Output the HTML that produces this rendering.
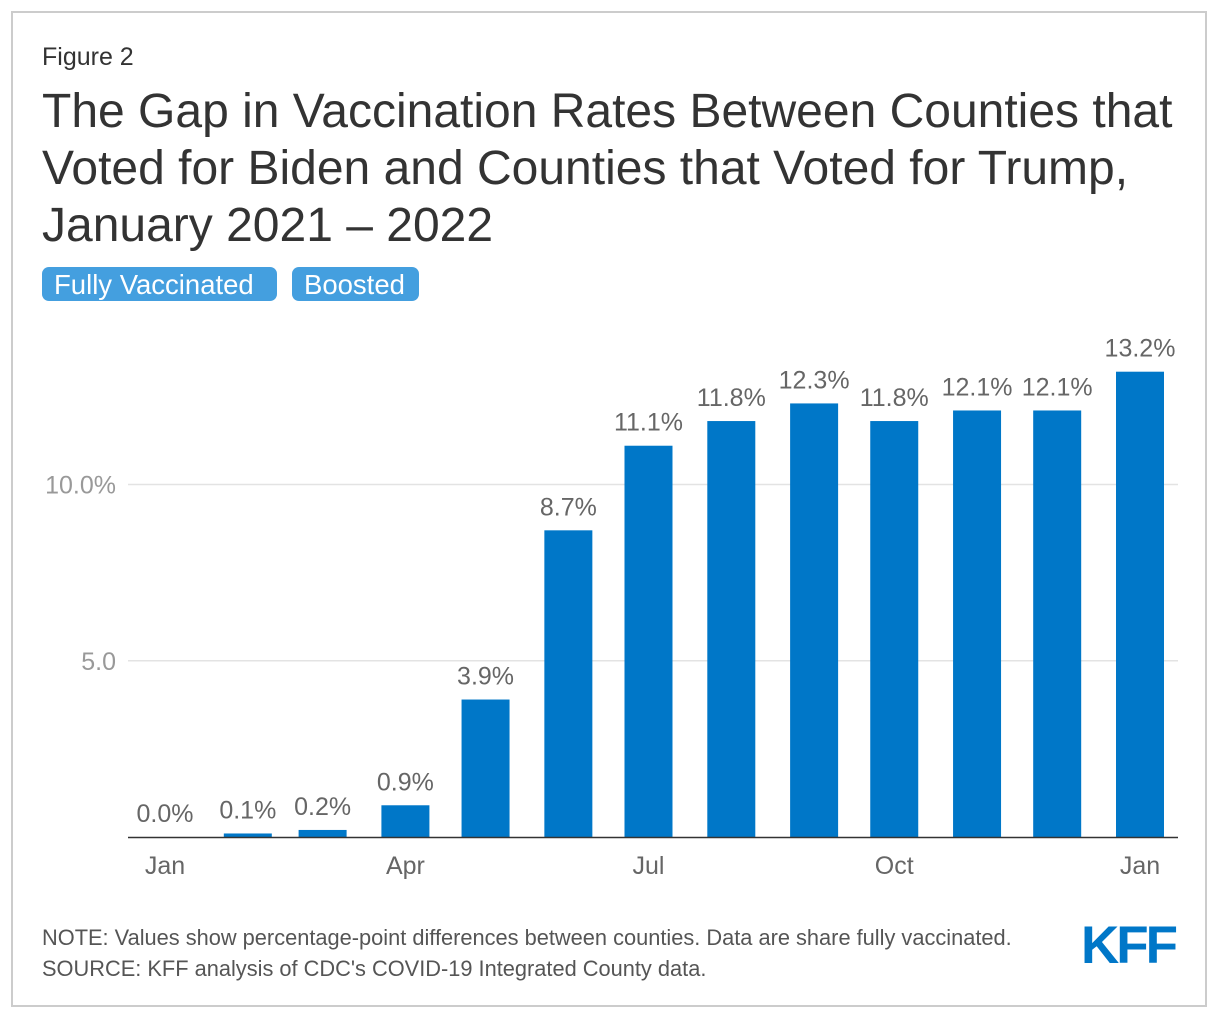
<!DOCTYPE html>
<html><head><meta charset="utf-8"><style>
body{margin:0;background:#fff;font-family:"Liberation Sans",sans-serif;}
#frame{position:absolute;left:11px;top:11px;width:1196px;height:996px;border:2px solid #ccc;box-sizing:border-box;}
.t{position:absolute;color:#333;white-space:nowrap;}
.btn{position:absolute;top:267px;height:34px;background:#449fdf;color:#fff;font-size:27.5px;line-height:35px;border-radius:7px;padding-left:12px;box-sizing:border-box;}
</style></head><body>
<div id="frame"></div>
<div class="t" style="left:42px;top:43px;font-size:25px">Figure 2</div>
<div class="t" style="left:42px;top:83px;font-size:48px;line-height:57px">The Gap in Vaccination Rates Between Counties that<br>Voted for Biden and Counties that Voted for Trump,<br>January 2021 – 2022</div>
<div class="btn" style="left:42px;width:235px">Fully Vaccinated</div>
<div class="btn" style="left:292px;width:127px">Boosted</div>
<svg id="chart" width="1220" height="1020" style="position:absolute;left:0;top:0"></svg>
<div class="t" style="left:42px;top:922px;font-size:21.8px;color:#555;line-height:31px">NOTE: Values show percentage-point differences between counties. Data are share fully vaccinated.<br>SOURCE: KFF analysis of CDC's COVID-19 Integrated County data.</div>
<div class="t" style="left:1081px;top:915px;font-size:53px;font-weight:bold;color:#0077c8;letter-spacing:-3px">KFF</div>
<script>
const dayOffsets=[0,31,59,90,120,151,181,212,243,273,304,334,365];
const values=[0.0,0.1,0.2,0.9,3.9,8.7,11.1,11.8,12.3,11.8,12.1,12.1,13.2];
const valueLabels=["0.0%","0.1%","0.2%","0.9%","3.9%","8.7%","11.1%","11.8%","12.3%","11.8%","12.1%","12.1%","13.2%"];
const yTicks=[5,10];
const yTickLabels=["5.0","10.0%"];
const xTickDays=[0,90,181,273,365];
const xTickLabels=["Jan","Apr","Jul","Oct","Jan"];
const NS="http://www.w3.org/2000/svg";
const svg=document.getElementById('chart');
const y=v=>837-v*35.25;
const x=d=>165+d*(975/365);
function mk(tag,attrs,txt){const e=document.createElementNS(NS,tag);for(const k in attrs)e.setAttribute(k,attrs[k]);if(txt!=null)e.textContent=txt;svg.appendChild(e);return e;}
yTicks.forEach((v,i)=>{
 const g=mk('line',{x1:128,x2:1178,y1:y(v),y2:y(v),stroke:'#e3e3e3','stroke-width':1.5});
 
 
 const t=mk('text',{x:116,y:y(v)+9,'text-anchor':'end','font-size':25,fill:'#999','font-family':'Liberation Sans'},yTickLabels[i]);
 
 
});
values.forEach((v,i)=>{
 const cx=x(dayOffsets[i]);
 const r=mk('rect',{x:cx-24,y:y(v),width:48,height:837-y(v),fill:'#0077c8'});
 
 
 const t=mk('text',{x:cx,y:y(v)-15,'text-anchor':'middle','font-size':25,fill:'#666','font-family':'Liberation Sans'},valueLabels[i]);
 
 
});
const ax=mk('line',{x1:128,x2:1178,y1:837.5,y2:837.5,stroke:'#333','stroke-width':1.5});


xTickDays.forEach((d,i)=>{
 const t=mk('text',{x:x(d),y:874,'text-anchor':'middle','font-size':25,fill:'#666','font-family':'Liberation Sans'},xTickLabels[i]);
 
 
});
</script>
</body></html>
